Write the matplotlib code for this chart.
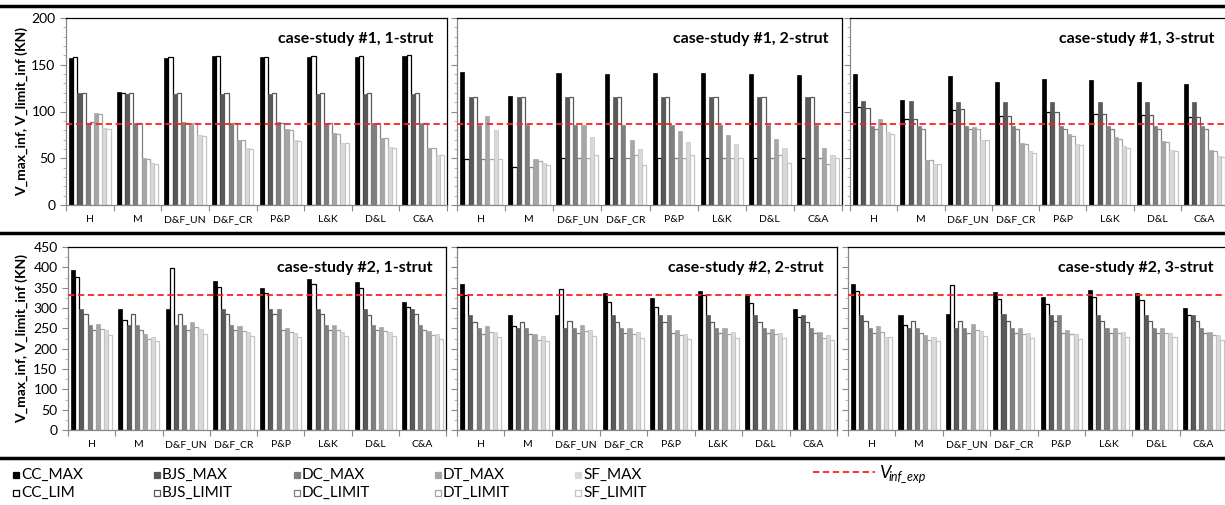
import numpy as np
import matplotlib.pyplot as plt
from matplotlib.patches import Rectangle
from matplotlib.lines import Line2D
from matplotlib.ticker import MultipleLocator

plt.rcParams['font.family'] = ['Lato', 'DejaVu Sans']

W, H = 1225, 505

categories = ['H', 'M', 'D&F_UN', 'D&F_CR', 'P&P', 'L&K', 'D&L', 'C&A']
series = ['CC_MAX', 'CC_LIM', 'BJS_MAX', 'BJS_LIMIT', 'DC_MAX', 'DC_LIMIT',
          'DT_MAX', 'DT_LIMIT', 'SF_MAX', 'SF_LIMIT']
fill_colors = ['#000000', '#595959', '#7f7f7f', '#a6a6a6', '#d9d9d9']
edge_colors = ['#000000', '#595959', '#7f7f7f', '#a6a6a6', '#c4c4c4']

# one row per category, columns in the order of `series`
cs1_1strut = [
    [157, 158, 120, 120, 88, 89, 98, 97, 82, 81],
    [121, 120, 119, 120, 88, 88, 50, 49, 45, 44],
    [157, 158, 119, 120, 89, 88, 88, 88, 75, 74],
    [159, 159, 119, 120, 88, 88, 70, 70, 61, 60],
    [158, 158, 119, 120, 89, 88, 81, 80, 69, 68],
    [158, 159, 119, 120, 88, 88, 77, 76, 66, 66],
    [158, 159, 119, 120, 88, 88, 72, 72, 62, 61],
    [159, 160, 119, 120, 88, 88, 61, 61, 54, 53],
]
cs1_2strut = [
    [142, 49, 115, 115, 86, 49, 95, 49, 80, 49],
    [117, 41, 115, 115, 86, 41, 49, 47, 45, 43],
    [141, 50, 115, 115, 86, 50, 86, 50, 73, 54],
    [140, 50, 115, 115, 86, 50, 69, 54, 60, 43],
    [141, 50, 115, 115, 86, 50, 79, 50, 67, 53],
    [141, 50, 115, 115, 86, 50, 75, 50, 65, 50],
    [140, 50, 115, 115, 86, 50, 71, 54, 61, 45],
    [139, 50, 115, 115, 86, 50, 61, 44, 54, 50],
]
cs1_3strut = [
    [140, 105, 111, 104, 84, 81, 92, 88, 78, 76],
    [112, 92, 111, 92, 84, 81, 48, 48, 44, 44],
    [138, 102, 110, 103, 84, 81, 83, 81, 70, 69],
    [132, 95, 110, 95, 84, 81, 66, 65, 58, 56],
    [135, 99, 110, 99, 84, 81, 76, 74, 65, 64],
    [134, 97, 110, 97, 84, 81, 73, 71, 63, 61],
    [132, 96, 110, 96, 84, 81, 68, 67, 59, 58],
    [129, 94, 110, 94, 84, 81, 59, 58, 52, 51],
]
cs2_1strut = [
    [393, 377, 298, 285, 257, 246, 261, 249, 245, 234],
    [297, 270, 257, 285, 257, 246, 235, 225, 229, 219],
    [298, 398, 258, 286, 258, 246, 266, 253, 248, 237],
    [367, 352, 298, 286, 258, 246, 255, 244, 242, 230],
    [350, 336, 298, 286, 298, 246, 251, 240, 239, 229],
    [372, 358, 298, 286, 258, 246, 257, 245, 242, 232],
    [365, 350, 297, 284, 257, 246, 254, 244, 241, 230],
    [315, 303, 298, 286, 257, 246, 244, 233, 235, 224],
]
cs2_2strut = [
    [358, 333, 283, 266, 252, 237, 255, 240, 242, 229],
    [283, 255, 251, 266, 251, 237, 235, 222, 230, 218],
    [284, 346, 252, 267, 252, 238, 259, 244, 245, 231],
    [336, 315, 283, 266, 252, 238, 250, 236, 240, 226],
    [324, 303, 283, 266, 283, 238, 246, 233, 237, 225],
    [341, 332, 283, 266, 252, 238, 250, 237, 240, 227],
    [335, 313, 283, 265, 252, 238, 249, 235, 239, 226],
    [298, 279, 283, 266, 252, 238, 240, 226, 233, 221],
]
cs2_3strut = [
    [360, 341, 284, 268, 252, 239, 255, 242, 229, 229],
    [284, 259, 252, 269, 252, 239, 234, 222, 229, 218],
    [285, 356, 252, 269, 252, 239, 260, 245, 244, 232],
    [340, 321, 285, 269, 252, 239, 251, 237, 239, 226],
    [326, 309, 284, 269, 284, 239, 247, 235, 237, 225],
    [345, 326, 284, 269, 252, 239, 252, 239, 240, 228],
    [337, 320, 284, 269, 252, 239, 251, 238, 239, 228],
    [300, 284, 284, 269, 252, 239, 240, 233, 233, 221],
]
v_inf_exp_cs1 = 87
v_inf_exp_cs2 = 333


def px_rect(l, t, r, b):
    return [l / W, 1 - b / H, (r - l) / W, (b - t) / H]


def draw_panel(ax, data, title, ymax, major, minor, v_exp, show_labels):
    data = np.array(data)
    x = np.arange(len(categories))
    w = 0.087
    for j, name in enumerate(series):
        k = j // 2
        pos = x + 0.5 + (j - 4.5) * w
        if j % 2 == 0:
            ax.bar(pos, data[:, j], w, color=fill_colors[k],
                   edgecolor=edge_colors[k], linewidth=0.5, zorder=2)
        else:
            ax.bar(pos, data[:, j], w, facecolor='white',
                   edgecolor=edge_colors[k], linewidth=0.9, zorder=2)
    ax.axhline(v_exp, color='#ff2020', linestyle=(0, (3.5, 2)), linewidth=1.3, zorder=3)

    ax.set_xlim(0, len(categories))
    ax.set_ylim(0, ymax)
    ax.set_xticks(np.arange(len(categories) + 1))
    ax.set_xticklabels([])
    ax.set_xticks(x + 0.5, minor=True)
    ax.set_xticklabels(categories, minor=True, fontsize=7.5)
    ax.tick_params(axis='x', which='major', direction='out', length=4, color='#888888')
    ax.tick_params(axis='x', which='minor', length=0, pad=7)

    ax.yaxis.set_major_locator(MultipleLocator(major))
    ax.yaxis.set_minor_locator(MultipleLocator(minor))
    ax.tick_params(axis='y', which='major', direction='out', length=4, color='#888888',
                   labelsize=10, labelleft=show_labels)
    ax.tick_params(axis='y', which='minor', direction='out', length=2, color='#aaaaaa')

    for s in ['top', 'right']:
        ax.spines[s].set_color('#000000')
        ax.spines[s].set_linewidth(0.9)
    for s in ['left', 'bottom']:
        ax.spines[s].set_color('#888888')
        ax.spines[s].set_linewidth(0.9)

    ax.text(0.965, 0.925, title, transform=ax.transAxes, ha='right', va='top',
            fontsize=11.5, fontweight='bold')


fig = plt.figure(figsize=(W / 100, H / 100), dpi=100)

panels = [
    (cs1_1strut, 'case-study #1, 1-strut', (66, 18, 447, 205), 200, 50, 10, v_inf_exp_cs1, True),
    (cs1_2strut, 'case-study #1, 2-strut', (457, 18, 842, 205), 200, 50, 10, v_inf_exp_cs1, False),
    (cs1_3strut, 'case-study #1, 3-strut', (850, 18, 1228, 205), 200, 50, 10, v_inf_exp_cs1, False),
    (cs2_1strut, 'case-study #2, 1-strut', (68, 247, 446, 430), 450, 50, 25, v_inf_exp_cs2, True),
    (cs2_2strut, 'case-study #2, 2-strut', (457, 247, 837, 430), 450, 50, 25, v_inf_exp_cs2, False),
    (cs2_3strut, 'case-study #2, 3-strut', (848, 247, 1227, 430), 450, 50, 25, v_inf_exp_cs2, False),
]
for data, title, box, ymax, major, minor, v_exp, lab in panels:
    ax = fig.add_axes(px_rect(*box))
    draw_panel(ax, data, title, ymax, major, minor, v_exp, lab)

# y labels
for yc in [111.5, 338.5]:
    fig.text(22 / W, 1 - yc / H, 'V_max_inf, V_limit_inf (KN)', rotation=90,
             ha='center', va='center', fontsize=10, fontweight='bold')

# black separator lines
for yl in [6, 233, 458]:
    fig.add_artist(Line2D([0, 1], [1 - yl / H] * 2, transform=fig.transFigure,
                          color='black', linewidth=2.5))

# legend
for j, name in enumerate(series):
    col = j // 2
    row = j % 2
    x0 = 13 + 140.5 * col
    yc = 475 if row == 0 else 493
    if row == 0:
        fc, ec = fill_colors[col], fill_colors[col]
    else:
        fc, ec = 'white', edge_colors[col]
    fig.add_artist(Rectangle((x0 / W, 1 - (yc + 3) / H), 6 / W, 6 / H,
                             transform=fig.transFigure, facecolor=fc,
                             edgecolor=ec, linewidth=0.9))
    fig.text((x0 + 8) / W, 1 - yc / H, name, ha='left', va='center', fontsize=11)

fig.add_artist(Line2D([813 / W, 875 / W], [1 - 472 / H] * 2, transform=fig.transFigure,
                      color='#ff2020', linestyle=(0, (3.5, 2)), linewidth=1.3))
fig.text(879 / W, 1 - 473 / H, 'V', ha='left', va='center', fontsize=13, style='italic')
fig.text(889 / W, 1 - 477 / H, 'inf_exp', ha='left', va='center', fontsize=9, style='italic')

plt.savefig('out.png', dpi=100)
